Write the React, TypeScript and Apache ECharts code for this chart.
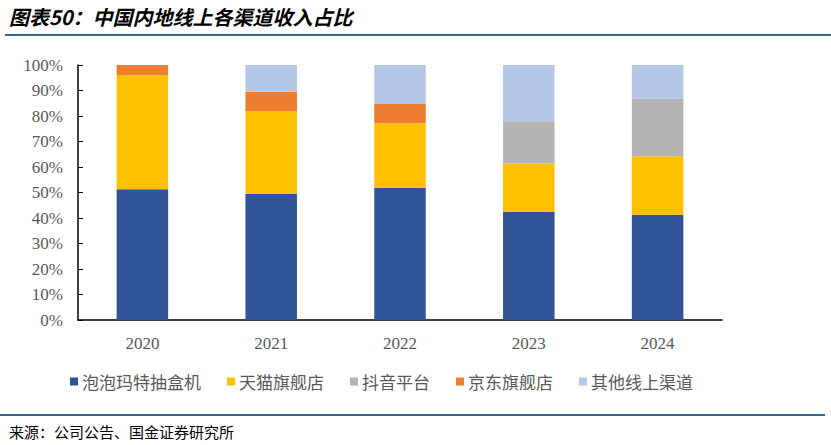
import { useEffect, useRef } from 'react';
import * as echarts from 'echarts';

const years = ['2020', '2021', '2022', '2023', '2024'];
const seriesNames = ['泡泡玛特抽盒机', '天猫旗舰店', '抖音平台', '京东旗舰店', '其他线上渠道'];
const popmartBox = [51.3, 49.5, 51.9, 42.5, 41.3];
const tmall = [44.8, 32.4, 25.3, 18.9, 22.9];
const douyin = [0, 0, 0, 16.5, 22.6];
const jd = [3.9, 7.6, 7.5, 0, 0];
const otherOnline = [0, 10.5, 15.3, 22.1, 13.2];
const seriesColors = ['#2F5597', '#FFC000', '#B3B3B3', '#ED7D31', '#B4C7E7'];

const titleText = '图表50：中国内地线上各渠道收入占比';
const sourceText = '来源：公司公告、国金证券研究所';

export default function App() {
  const chartRef = useRef<HTMLDivElement | null>(null);

  useEffect(() => {
    if (!chartRef.current) {
      return;
    }
    const chart = echarts.init(chartRef.current, undefined, { renderer: 'svg' });
    const values = [popmartBox, tmall, douyin, jd, otherOnline];
    chart.setOption({
      animation: false,
      backgroundColor: '#ffffff',
      grid: { left: 78, right: 109, top: 65, bottom: 125 },
      legend: {
        left: 65,
        top: 368,
        itemWidth: 8,
        itemHeight: 8,
        itemGap: 26,
        icon: 'rect',
        textStyle: { color: '#595959', fontSize: 17, fontFamily: '"Noto Sans CJK SC", sans-serif', padding: [0, 0, 0, -1] },
        data: seriesNames,
      },
      xAxis: {
        type: 'category',
        data: years,
        axisLine: { lineStyle: { color: '#000000', width: 1.5 } },
        axisTick: { inside: true, length: 5, lineStyle: { color: '#000000' } },
        axisLabel: { color: '#595959', fontSize: 17, fontFamily: '"Liberation Serif", serif', margin: 15 },
      },
      yAxis: {
        type: 'value',
        min: 0,
        max: 100,
        interval: 10,
        axisLine: { show: true, lineStyle: { color: '#000000', width: 1.5 } },
        axisTick: { show: true, inside: true, length: 5, lineStyle: { color: '#000000' } },
        splitLine: { show: false },
        axisLabel: { color: '#595959', fontSize: 17, fontFamily: '"Liberation Serif", serif', margin: 15, formatter: '{value}%' },
      },
      series: seriesNames.map((name, i) => ({
        name,
        type: 'bar',
        stack: 'total',
        barWidth: '40%',
        itemStyle: { color: seriesColors[i] },
        data: values[i],
      })),
      graphic: [
        {
          type: 'text',
          x: 9,
          y: 16,
          style: {
            text: titleText,
            fill: '#000000',
            font: 'italic bold 20px "Noto Sans CJK SC", sans-serif',
            textVerticalAlign: 'middle',
          },
        },
        {
          type: 'line',
          shape: { x1: 5, y1: 35, x2: 831, y2: 35 },
          style: { stroke: '#2E6A97', lineWidth: 2 },
        },
        {
          type: 'line',
          shape: { x1: 0, y1: 415, x2: 825, y2: 415 },
          style: { stroke: '#2E6A97', lineWidth: 2 },
        },
        {
          type: 'text',
          left: 9,
          top: 424,
          style: {
            text: sourceText,
            fill: '#000000',
            font: '15px "Noto Sans CJK SC", sans-serif',
          },
        },
      ],
    });
    return () => {
      chart.dispose();
    };
  }, []);

  return <div ref={chartRef} style={{ position: 'fixed', left: 0, top: 0, width: 831, height: 445 }} />;
}
